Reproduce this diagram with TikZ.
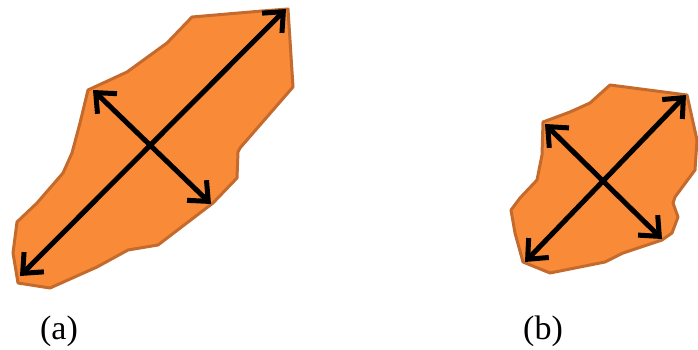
\documentclass[tikz,border=0pt]{standalone}
\usepackage{fontspec}
\setmainfont{Liberation Serif}
\usetikzlibrary{arrows.meta}
\definecolor{blobfill}{HTML}{F98A38}
\definecolor{blobedge}{HTML}{C46A2C}
\tikzset{
  blob/.style={fill=blobfill, draw=blobedge, line width=3pt, line join=round},
  axis/.style={line width=5pt, line cap=round, {Straight Barb[length=16pt,width=28pt,line width=5pt]}-{Straight Barb[length=16pt,width=28pt,line width=5pt]}},
  lab/.style={font=\fontsize{34}{38}\selectfont, inner sep=0pt}
}
\begin{document}
\begin{tikzpicture}[x=1pt,y=-1pt]
\useasboundingbox (0,0) rectangle (698,350);
% shape (a)
\draw[blob] (192,17) -- (262,11) -- (288,9) -- (293,87) -- (240,148) -- (238,152) -- (237,178) -- (213,203)
  -- (158,245) -- (128,250) -- (97,267) -- (50,288) -- (18,283) -- (13,253) -- (17,222) -- (37,203)
  -- (63,173) -- (72,153) -- (80,123) -- (88,90) -- (127,72) -- (167,43) -- cycle;
% shape (b)
\draw[blob] (610,85) -- (687,95) -- (697,140) -- (695,170) -- (675,197) -- (673,203) -- (678,217)
  -- (672,233) -- (662,240) -- (623,253) -- (605,262) -- (550,273) -- (523,262) -- (515,233)
  -- (511,210) -- (520,198) -- (537,180) -- (542,155) -- (543,122) -- (570,112) -- (590,103) -- cycle;
% arrows (a)
\coordinate (a1) at (20,276);
\coordinate (a2) at (286,9);
\coordinate (a3) at (93,90);
\coordinate (a4) at (211,204);
\draw[axis] (a1) -- (a2);
\draw[axis] (a3) -- (a4);
% arrows (b)
\coordinate (b1) at (525,262);
\coordinate (b2) at (686,95);
\coordinate (b3) at (545,124);
\coordinate (b4) at (662,239);
\draw[axis] (b1) -- (b2);
\draw[axis] (b3) -- (b4);
% labels
\node[lab] (la) at (59,331) {(a)};
\node[lab] (lb) at (543,331) {(b)};
\end{tikzpicture}
\end{document}
